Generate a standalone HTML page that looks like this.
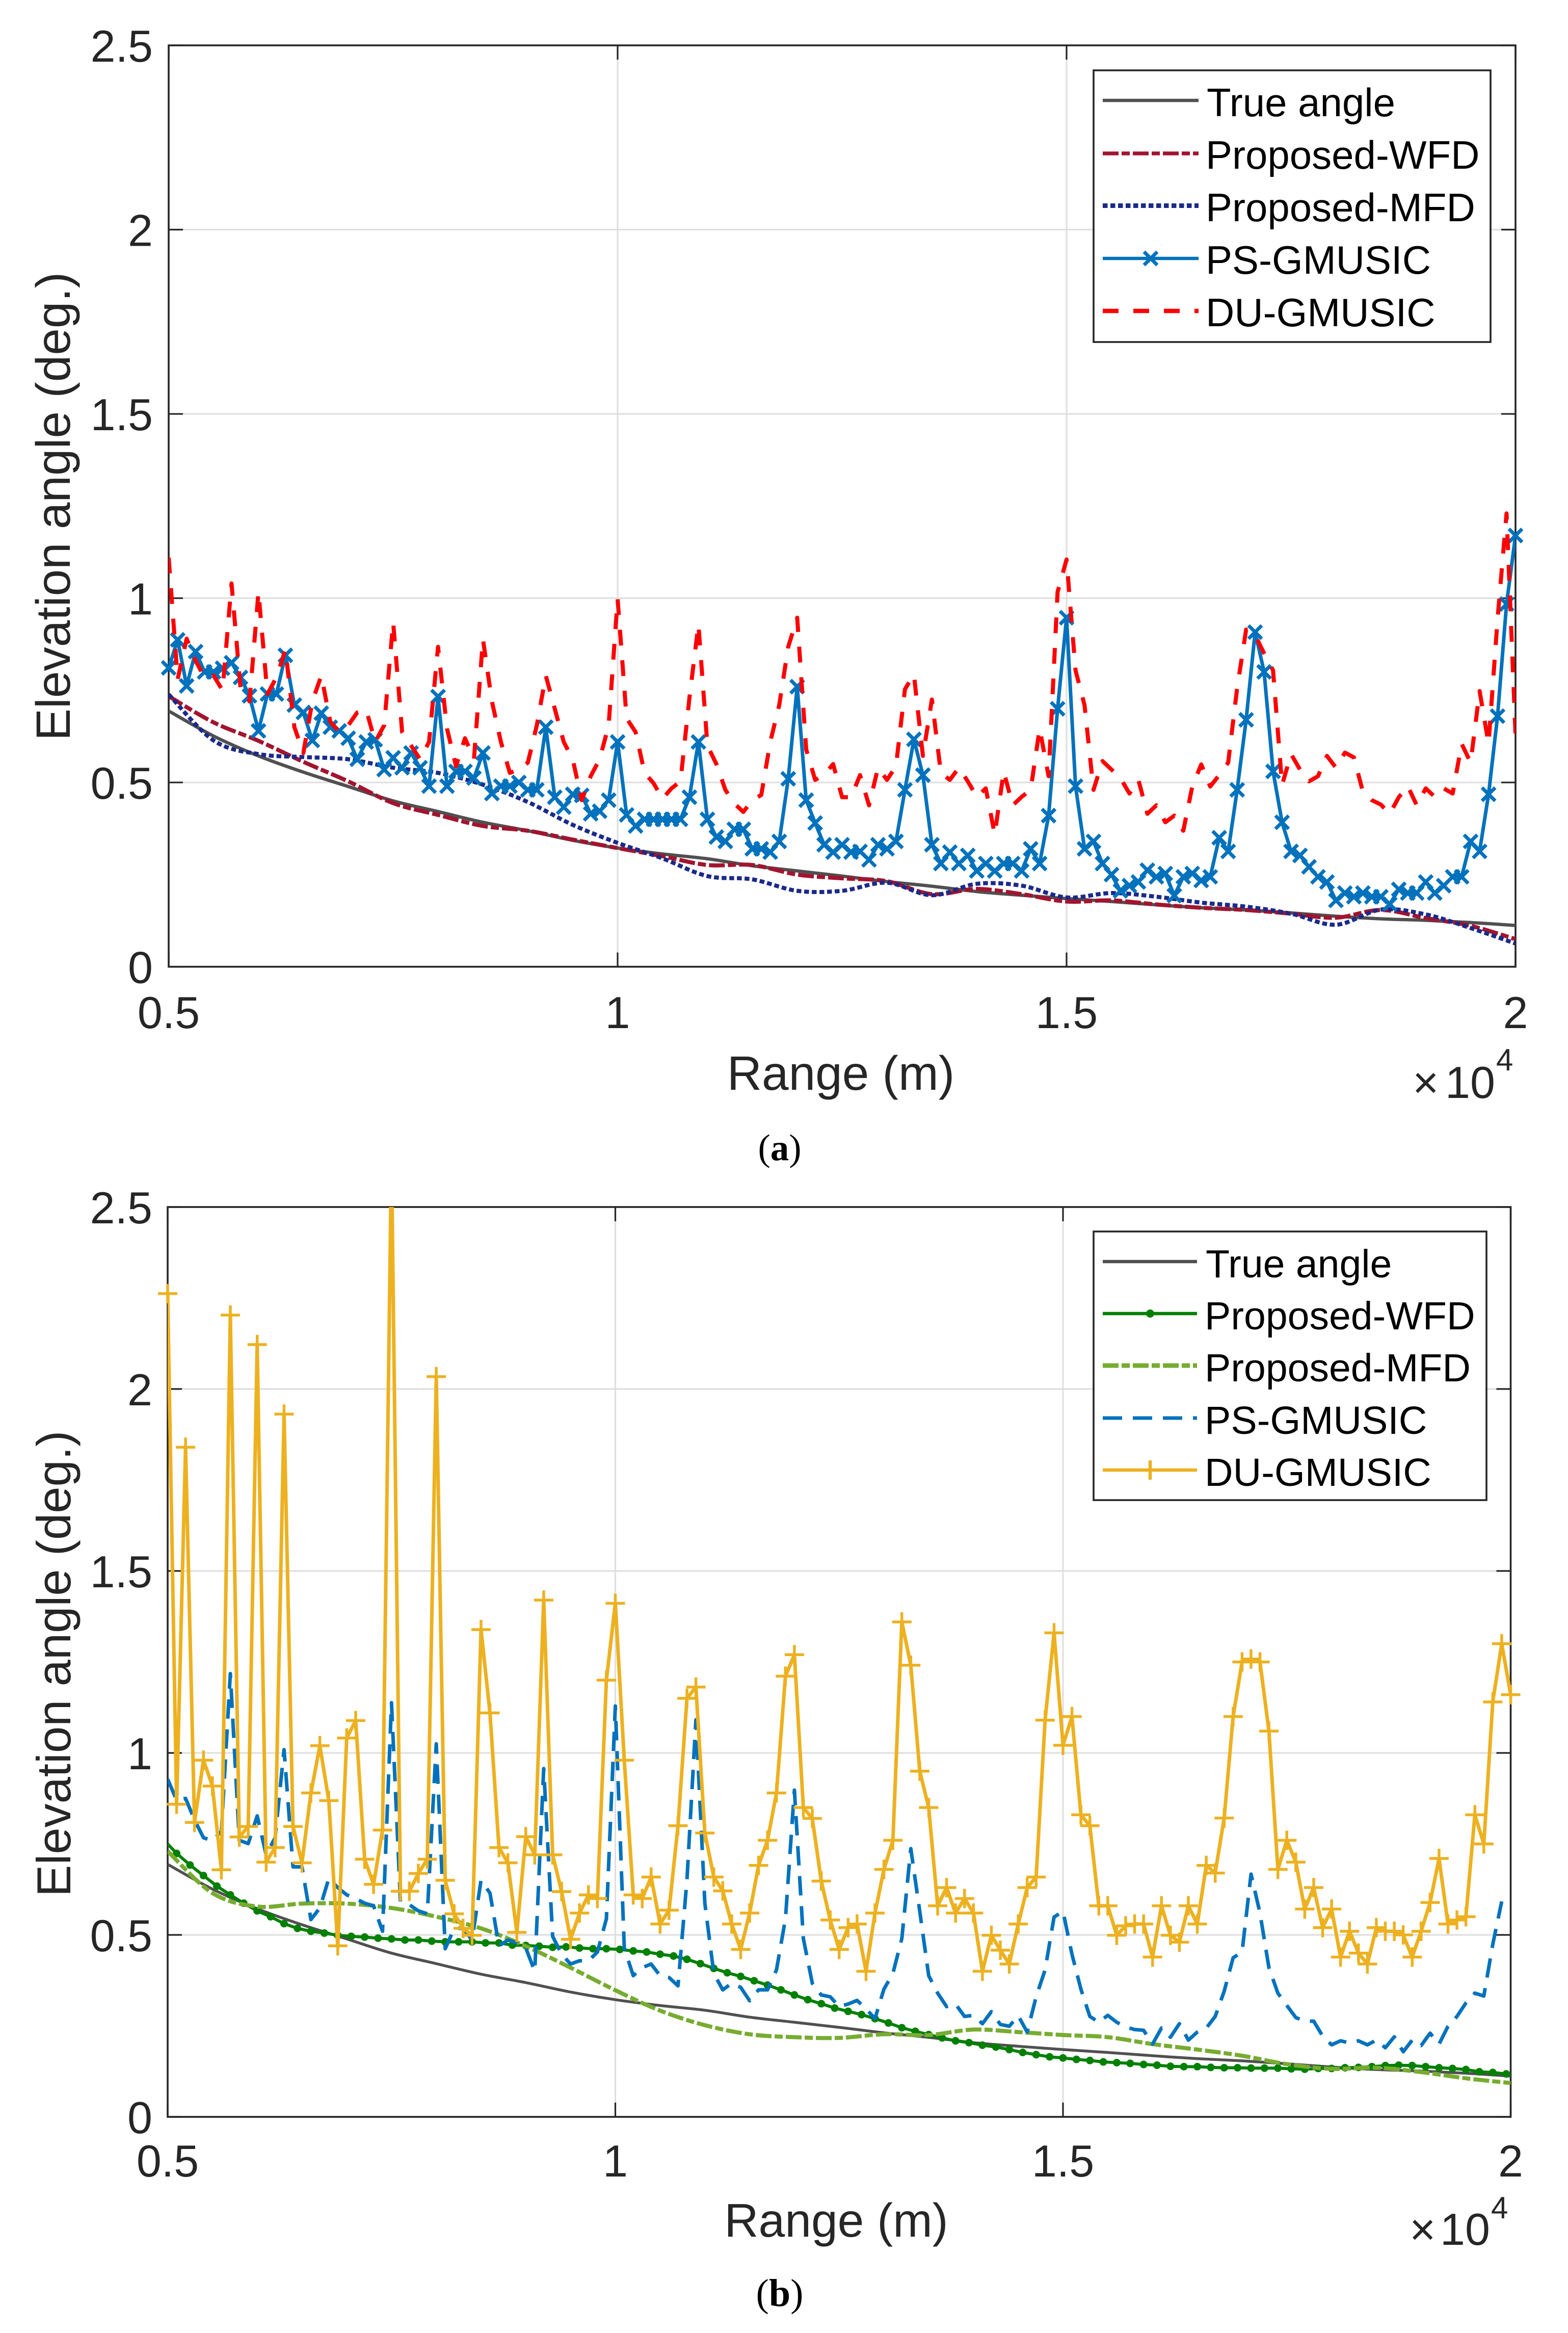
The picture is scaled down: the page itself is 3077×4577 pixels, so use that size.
<!DOCTYPE html>
<html lang="en">
<head>
<meta charset="utf-8">
<title>Elevation angle versus range</title>
<style>
html,body{margin:0;padding:0;background:#fff}
svg{display:block}
text{font-family:"Liberation Sans",sans-serif;fill:#262626}
.legend-text{font-size:78px;fill:#000}
.cap{font-family:"Liberation Serif",serif;fill:#000}
</style>
</head>
<body>
<svg id="figure" xmlns="http://www.w3.org/2000/svg" width="3077" height="4577" viewBox="0 0 3077 4577">
<rect x="0" y="0" width="3077" height="4577" fill="#fff"/>
<defs>
<clipPath id="clip-a"><rect x="331" y="89" width="2643" height="1807.6"/></clipPath>
<clipPath id="clip-b"><rect x="329" y="2368" width="2635.5" height="1785"/></clipPath>
</defs>

<g id="panel-a"></g>
<text transform="translate(137,993.5) rotate(-90)" text-anchor="middle" font-size="94.5">Elevation angle (deg.)</text>
<text x="1650" y="2138" text-anchor="middle" font-size="94.5">Range (m)</text>
<g>
<text x="2772" y="2154" font-size="88">×</text><text x="2836" y="2154" font-size="88">10</text><text x="2936" y="2100" font-size="60">4</text>
</g>
<text class="cap" x="1530" y="2276" text-anchor="middle" font-size="73">(<tspan font-weight="bold">a</tspan>)</text>

<g>
<rect x="2146" y="138" width="779" height="533" fill="#fff" stroke="#262626" stroke-width="3.6"/>
<line x1="2164" x2="2352" y1="197" y2="197" stroke="#505050" stroke-width="6.5"/>
<text class="legend-text" x="2368" y="228">True angle</text>
<line x1="2164" x2="2352" y1="301" y2="301" stroke="#a2142f" stroke-width="7.5" stroke-dasharray="31 6 16 6"/>
<text class="legend-text" x="2366" y="331">Proposed-WFD</text>
<line x1="2164" x2="2352" y1="403.5" y2="403.5" stroke="#1a2a8a" stroke-width="9" stroke-dasharray="9.5 5.5"/>
<text class="legend-text" x="2366" y="434">Proposed-MFD</text>
<line x1="2164" x2="2352" y1="507" y2="507" stroke="#0072bd" stroke-width="6.5"/>
<path d="M2245 494L2271 520M2271 494L2245 520" stroke="#0072bd" stroke-width="7" fill="none"/>
<text class="legend-text" x="2366" y="537">PS-GMUSIC</text>
<line x1="2164" x2="2352" y1="610" y2="610" stroke="#ff0000" stroke-width="8.5" stroke-dasharray="31 29"/>
<text class="legend-text" x="2366" y="640">DU-GMUSIC</text>
</g>

<g id="panel-b"></g>
<text transform="translate(138,3264) rotate(-90)" text-anchor="middle" font-size="94">Elevation angle (deg.)</text>
<text x="1641" y="4388" text-anchor="middle" font-size="93">Range (m)</text>
<g>
<text x="2766" y="4404" font-size="88">×</text><text x="2826" y="4404" font-size="88">10</text><text x="2926" y="4352" font-size="60">4</text>
</g>
<text class="cap" x="1530" y="4524" text-anchor="middle" font-size="76">(<tspan font-weight="bold">b</tspan>)</text>

<g>
<rect x="2146" y="2416" width="771" height="527" fill="#fff" stroke="#262626" stroke-width="3.6"/>
<line x1="2164" x2="2349" y1="2475" y2="2475" stroke="#505050" stroke-width="6.5"/>
<text class="legend-text" style="font-size:77px" x="2366" y="2506">True angle</text>
<line x1="2164" x2="2349" y1="2577" y2="2577" stroke="#008000" stroke-width="6.5"/>
<circle cx="2257" cy="2577" r="8" fill="#008000"/>
<text class="legend-text" style="font-size:77px" x="2364" y="2608">Proposed-WFD</text>
<line x1="2164" x2="2349" y1="2679" y2="2679" stroke="#77ac30" stroke-width="9" stroke-dasharray="31 6 16 6"/>
<text class="legend-text" style="font-size:77px" x="2364" y="2710">Proposed-MFD</text>
<line x1="2164" x2="2349" y1="2782" y2="2782" stroke="#0072bd" stroke-width="7" stroke-dasharray="38 21"/>
<text class="legend-text" style="font-size:77px" x="2364" y="2813">PS-GMUSIC</text>
<line x1="2164" x2="2349" y1="2884" y2="2884" stroke="#edb120" stroke-width="6.5"/>
<line x1="2257" x2="2257" y1="2865" y2="2903" stroke="#edb120" stroke-width="6.5"/>
<text class="legend-text" style="font-size:77px" x="2364" y="2915">DU-GMUSIC</text>
</g>
</svg>

<script>
const xTicks = [5000, 10000, 15000, 20000];
const xTickLabels = ['0.5', '1', '1.5', '2'];
const yTicks = [0, 0.5, 1, 1.5, 2, 2.5];
const yTickLabels = ['0', '0.5', '1', '1.5', '2', '2.5'];

/* Shared true elevation curve, every 500 m from 5000 m */
const trueAngle = [.694,.626,.572,.528,.489,.45,.421,.392,.369,.343,.322,.306,.293,.274,.26,.246,.231,.2185,.204,.194,.185,.177,.168,.16,.154,.146,.137,.13,.126,.12,.112];

/* Panel (a) */
const wfdA = [.734,.663,.613,.556,.503,.444,.412,.382,.369,.345,.322,.30,.276,.276,.25,.24,.232,.197,.211,.197,.177,.18,.169,.16,.154,.144,.133,.154,.132,.111,.075];
const mfdA = [.739,.614,.577,.569,.563,.54,.526,.494,.447,.385,.336,.294,.246,.237,.206,.206,.228,.194,.225,.22,.188,.20,.19,.174,.163,.144,.114,.155,.142,.105,.063];
const psA = [
.811,.887,.762,.855,.80,.80,.81,.825,.785,.735,
.64,.74,.74,.845,.71,.69,.614,.688,.65,.64,
.62,.563,.61,.616,.535,.567,.54,.58,.54,.49,
.733,.49,.53,.53,.512,.58,.47,.49,.49,.50,
.48,.48,.65,.46,.433,.468,.465,.415,.422,.452,
.61,.412,.382,.40,.40,.40,.40,.40,.46,.61,
.40,.352,.34,.373,.373,.32,.32,.311,.34,.51,
.76,.452,.39,.331,.311,.331,.311,.313,.29,.331,
.32,.34,.48,.617,.52,.331,.28,.311,.28,.302,
.26,.28,.26,.28,.28,.26,.32,.28,.41,.70,
.947,.49,.32,.34,.28,.25,.206,.22,.23,.262,
.244,.253,.193,.244,.253,.234,.244,.35,.313,.48,
.67,.908,.80,.53,.392,.313,.302,.271,.244,.23,
.18,.20,.19,.20,.19,.19,.17,.21,.20,.20,
.23,.20,.22,.244,.244,.34,.313,.468,.68,.984,1.17];
const duA = [
1.11,.78,.89,.83,.785,.79,.75,1.04,.757,.72,
1.017,.74,.785,.86,.65,.58,.72,.79,.665,.637,
.655,.69,.697,.61,.655,.935,.637,.60,.563,.61,
.868,.646,.544,.62,.563,.889,.72,.61,.526,.535,
.554,.655,.79,.70,.61,.563,.452,.517,.563,.655,
.998,.674,.637,.526,.498,.456,.484,.503,.73,.929,
.60,.55,.48,.443,.42,.452,.466,.61,.71,.868,
.947,.59,.507,.52,.55,.46,.46,.52,.438,.54,
.507,.544,.753,.793,.572,.725,.526,.507,.54,.503,
.461,.484,.359,.53,.438,.461,.48,.646,.517,1.017,
1.105,.804,.71,.48,.558,.535,.512,.47,.507,.415,
.438,.392,.41,.369,.489,.549,.489,.52,.554,.757,
.915,.90,.85,.804,.493,.577,.535,.503,.517,.572,
.54,.581,.568,.475,.452,.44,.415,.46,.49,.438,
.484,.461,.484,.47,.605,.554,.748,.605,.943,1.23,.632];

/* Panel (b) */
const wfdBStart = .75;
const wfdB = [
.724,.692,.663,.634,.61,.587,.566,.55,.531,.518,
.51,.505,.499,.496,.494,.491,.489,.486,.486,.483,
.481,.481,.481,.478,.478,.472,.471,.469,.466,.467,
.464,.462,.462,.46,.456,.453,.447,.442,.433,.421,
.408,.396,.386,.374,.362,.349,.335,.322,.311,.299,
.29,.281,.27,.258,.245,.235,.226,.217,.209,.204,
.197,.192,.185,.177,.171,.165,.162,.158,.155,.151,
.149,.147,.144,.142,.139,.138,.138,.136,.135,.135,
.134,.134,.134,.132,.131,.133,.133,.135,.136,.138,
.141,.142,.141,.138,.135,.133,.13,.124,.122,.118];
const wfdBEnd = .118;
const mfdB = [.73,.615,.578,.586,.586,.574,.55,.518,.469,.41,.348,.292,.252,.227,.219,.217,.227,.225,.24,.233,.225,.219,.20,.185,.168,.145,.132,.135,.123,.106,.093];
const psB = [
.928,.87,.875,.816,.767,.759,.784,1.218,.76,.751,
.827,.72,.767,1.009,.687,.687,.542,.574,.655,.63,
.61,.60,.587,.58,.51,1.138,.59,.583,.566,.558,
1.025,.462,.518,.518,.486,.65,.615,.47,.486,.478,
.464,.40,.957,.496,.447,.42,.429,.429,.453,.544,
1.129,.464,.388,.41,.42,.388,.383,.36,.651,1.091,
.587,.394,.349,.367,.356,.319,.349,.349,.404,.544,
.898,.49,.367,.335,.33,.303,.31,.32,.297,.27,
.351,.394,.49,.737,.565,.388,.34,.303,.31,.276,
.279,.256,.289,.254,.249,.278,.233,.33,.404,.549,
.565,.447,.351,.276,.26,.279,.26,.247,.24,.238,
.20,.244,.219,.256,.211,.233,.244,.276,.345,.437,
.453,.667,.56,.41,.34,.306,.273,.263,.263,.222,
.198,.209,.203,.209,.198,.211,.19,.22,.179,.211,
.196,.23,.20,.249,.276,.313,.34,.332,.474,.592];
const duB = [
2.262,.859,1.84,.809,.98,.909,.679,2.203,.769,.798,
2.122,.70,.74,1.931,.798,.698,.89,1.02,.869,.47,
1.041,1.089,.708,.639,.788,2.65,.62,.62,.669,.708,
2.034,.65,.558,.518,.499,1.339,1.11,.74,.698,.507,
.77,.72,1.42,.72,.619,.488,.56,.61,.60,1.20,
1.411,.98,.61,.60,.659,.53,.568,.80,1.15,1.181,
.78,.659,.621,.53,.46,.56,.691,.76,.89,1.211,
1.27,.85,.82,.648,.541,.46,.52,.53,.40,.56,
.68,.76,1.36,1.241,.95,.85,.58,.63,.56,.60,
.56,.40,.499,.458,.42,.53,.63,.659,1.09,1.33,
1.021,1.10,.83,.80,.58,.58,.499,.525,.53,.53,
.439,.58,.499,.48,.58,.53,.691,.67,.821,1.10,
1.25,1.258,1.25,1.06,.68,.76,.70,.571,.63,.52,
.571,.439,.51,.45,.42,.52,.51,.51,.50,.439,
.51,.589,.71,.53,.541,.55,.83,.75,1.14,1.30,1.16];

const NS = 'http://www.w3.org/2000/svg';
const AXIS_COLOR = '#262626';
const GRID_COLOR = '#dfdfdf';
const RANGE_MIN = 5000, RANGE_MAX = 20000, ANGLE_MIN = 0, ANGLE_MAX = 2.5;

function el(parent, tag, attrs) {
  const node = document.createElementNS(NS, tag);
  for (const key in attrs) node.setAttribute(key, attrs[key]);
  parent.appendChild(node);
  return node;
}

function rangesFrom(values, step) {
  return values.map(function (v, i) { return RANGE_MIN + i * step; });
}

function linePath(points) {
  return points.map(function (p, i) { return (i ? 'L' : 'M') + p[0].toFixed(2) + ' ' + p[1].toFixed(2); }).join('');
}

function smoothPath(points) {
  let d = 'M' + points[0][0].toFixed(2) + ' ' + points[0][1].toFixed(2);
  for (let i = 0; i < points.length - 1; i++) {
    const p0 = points[Math.max(0, i - 1)], p1 = points[i], p2 = points[i + 1], p3 = points[Math.min(points.length - 1, i + 2)];
    const c1x = p1[0] + (p2[0] - p0[0]) / 6, c1y = p1[1] + (p2[1] - p0[1]) / 6;
    const c2x = p2[0] - (p3[0] - p1[0]) / 6, c2y = p2[1] - (p3[1] - p1[1]) / 6;
    d += 'C' + c1x.toFixed(2) + ' ' + c1y.toFixed(2) + ' ' + c2x.toFixed(2) + ' ' + c2y.toFixed(2) + ' ' + p2[0].toFixed(2) + ' ' + p2[1].toFixed(2);
  }
  return d;
}

function drawAxes(group, geom, prefix) {
  const x = function (r) { return geom.left + (r - RANGE_MIN) / (RANGE_MAX - RANGE_MIN) * (geom.right - geom.left); };
  const y = function (v) { return geom.bottom - (v - ANGLE_MIN) / (ANGLE_MAX - ANGLE_MIN) * (geom.bottom - geom.top); };

  xTicks.forEach(function (t, i) {
    if (t !== RANGE_MIN && t !== RANGE_MAX) {
      const grid = el(group, 'line', {x1: x(t), x2: x(t), y1: geom.top, y2: geom.bottom, stroke: GRID_COLOR, 'stroke-width': 3.2});
      
      
    }
    const label = el(group, 'text', {x: x(t), y: geom.xTickBaseline, 'text-anchor': 'middle', 'font-size': 88});
    label.textContent = xTickLabels[i];
    
    
  });
  yTicks.forEach(function (t, i) {
    if (t !== ANGLE_MIN && t !== ANGLE_MAX) {
      const grid = el(group, 'line', {x1: geom.left, x2: geom.right, y1: y(t), y2: y(t), stroke: GRID_COLOR, 'stroke-width': 3.2});
      
      
    }
    const label = el(group, 'text', {x: geom.yTickRight, y: y(t) + 32, 'text-anchor': 'end', 'font-size': 88});
    label.textContent = yTickLabels[i];
    
    
  });

  const box = el(group, 'rect', {x: geom.left, y: geom.top, width: geom.right - geom.left, height: geom.bottom - geom.top, fill: 'none', stroke: AXIS_COLOR, 'stroke-width': 3.6});
  
  

  let tickD = '';
  const LEN = 28;
  xTicks.forEach(function (t) {
    tickD += 'M' + x(t) + ' ' + geom.bottom + 'V' + (geom.bottom - LEN) + 'M' + x(t) + ' ' + geom.top + 'V' + (geom.top + LEN);
  });
  yTicks.forEach(function (t) {
    tickD += 'M' + geom.left + ' ' + y(t) + 'H' + (geom.left + LEN) + 'M' + geom.right + ' ' + y(t) + 'H' + (geom.right - LEN);
  });
  const ticks = el(group, 'path', {d: tickD, stroke: AXIS_COLOR, 'stroke-width': 3.2, fill: 'none'});
  
  

  return {x: x, y: y};
}

function drawSeries(group, scale, clipId, spec) {
  const points = spec.values.map(function (v, i) { return [scale.x(spec.ranges[i]), scale.y(v)]; });
  const d = spec.smooth ? smoothPath(points) : linePath(points);
  const attrs = {d: d, fill: 'none', stroke: spec.color, 'stroke-width': spec.width, 'stroke-linejoin': 'round', 'clip-path': 'url(#' + clipId + ')'};
  if (spec.dash) attrs['stroke-dasharray'] = spec.dash;
  const line = el(group, 'path', attrs);
  
  

  if (!spec.marker) return;
  const markerRanges = spec.markerRanges || spec.ranges;
  const markerValues = spec.markerValues || spec.values;
  markerValues.forEach(function (v, i) {
    if (v > ANGLE_MAX || v < ANGLE_MIN) return;
    const px = scale.x(markerRanges[i]), py = scale.y(v);
    let mark;
    if (spec.marker === 'x') {
      const h = 13;
      mark = el(group, 'path', {d: 'M' + (px - h) + ' ' + (py - h) + 'L' + (px + h) + ' ' + (py + h) + 'M' + (px + h) + ' ' + (py - h) + 'L' + (px - h) + ' ' + (py + h), stroke: spec.color, 'stroke-width': 7, fill: 'none'});
    } else if (spec.marker === 'plus') {
      const h = 19;
      mark = el(group, 'path', {d: 'M' + (px - h) + ' ' + py + 'H' + (px + h) + 'M' + px + ' ' + (py - h) + 'V' + (py + h), stroke: spec.color, 'stroke-width': 5.5, fill: 'none'});
    } else {
      mark = el(group, 'circle', {cx: px, cy: py, r: 7.5, fill: spec.color});
    }
    
    
  });
}

const groupA = document.getElementById('panel-a');
const scaleA = drawAxes(groupA, {left: 331, right: 2974, top: 89, bottom: 1896.6, xTickBaseline: 2017, yTickRight: 300}, 'panel-a');
[
  {name: 'a-true-angle', values: trueAngle, ranges: rangesFrom(trueAngle, 500), color: '#505050', width: 6.5, smooth: true},
  {name: 'a-proposed-wfd', values: wfdA, ranges: rangesFrom(wfdA, 500), color: '#a2142f', width: 8, dash: '31 6 16 6', smooth: true},
  {name: 'a-proposed-mfd', values: mfdA, ranges: rangesFrom(mfdA, 500), color: '#1a2a8a', width: 8, dash: '9.5 5.5', smooth: true},
  {name: 'a-ps-gmusic', values: psA, ranges: rangesFrom(psA, 100), color: '#0072bd', width: 7, marker: 'x'},
  {name: 'a-du-gmusic', values: duA, ranges: rangesFrom(duA, 100), color: '#ff0000', width: 8, dash: '31 29'}
].forEach(function (spec) { drawSeries(groupA, scaleA, 'clip-a', spec); });

const groupB = document.getElementById('panel-b');
const scaleB = drawAxes(groupB, {left: 329, right: 2964.5, top: 2368, bottom: 4153, xTickBaseline: 4270, yTickRight: 299}, 'panel-b');
const wfdBMarkerRanges = wfdB.map(function (v, i) { return 5100 + 150 * i; });
[
  {name: 'b-true-angle', values: trueAngle, ranges: rangesFrom(trueAngle, 500), color: '#505050', width: 5.5, smooth: true},
  {name: 'b-proposed-wfd', values: [wfdBStart].concat(wfdB, [wfdBEnd]), ranges: [RANGE_MIN].concat(wfdBMarkerRanges, [RANGE_MAX]), markerValues: wfdB, markerRanges: wfdBMarkerRanges, color: '#008000', width: 6, marker: 'dot'},
  {name: 'b-proposed-mfd', values: mfdB, ranges: rangesFrom(mfdB, 500), color: '#77ac30', width: 8, dash: '31 6 16 6', smooth: true},
  {name: 'b-ps-gmusic', values: psB, ranges: rangesFrom(psB, 100), color: '#0072bd', width: 7, dash: '38 21'},
  {name: 'b-du-gmusic', values: duB, ranges: rangesFrom(duB, 100), color: '#edb120', width: 7, marker: 'plus'}
].forEach(function (spec) { drawSeries(groupB, scaleB, 'clip-b', spec); });
</script>
</body>
</html>
